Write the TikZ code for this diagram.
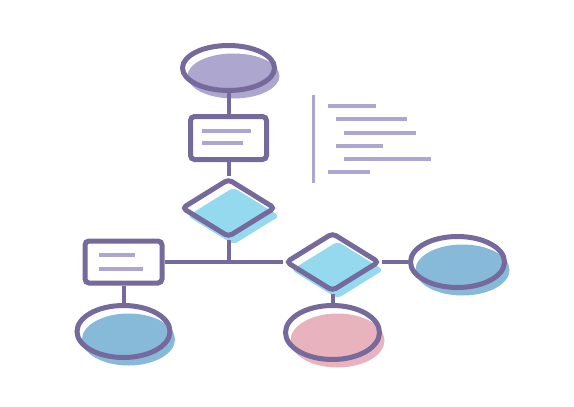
\documentclass[tikz,border=0pt]{standalone}
\usetikzlibrary{shapes.geometric,shadows}
\definecolor{stroke}{HTML}{76699B}
\definecolor{lav}{HTML}{ADA6CF}
\definecolor{cyanf}{HTML}{94D9EE}
\definecolor{bluef}{HTML}{86BAD8}
\definecolor{pinkf}{HTML}{E9B3BD}
\definecolor{bar}{HTML}{ADA6D0}
\tikzset{
  x=1pt, y=-1pt,
  outl/.style={draw=stroke, line width=5pt, inner sep=0pt,
    preaction={draw=white, line width=7pt}},
  shadowed/.style={drop shadow={shadow xshift=5pt, shadow yshift=-8pt, fill=#1, opacity=1}},
  ell/.style={ellipse, outl},
  box/.style={rectangle, rounded corners=4pt, outl, fill=white},
  dia/.style={diamond, rounded corners=4pt, outl},
  conn/.style={draw=stroke, line width=4pt},
  txt/.style={draw=bar, line width=3.5pt},
}
\begin{document}
\begin{tikzpicture}
\useasboundingbox (0,0) rectangle (574,407);
\node[ell, shadowed=lav, minimum width=92pt, minimum height=45pt] (e1) at (228.5,68) {};
\node[box, minimum width=76pt, minimum height=43pt] (r1) at (228.5,138) {};
\node[dia, shadowed=cyanf, minimum width=94pt, minimum height=59pt] (d1) at (228.5,208) {};
\node[box, minimum width=77pt, minimum height=42pt] (r2) at (123.5,262) {};
\node[dia, shadowed=cyanf, minimum width=94pt, minimum height=59pt] (d2) at (332.5,262) {};
\node[ell, shadowed=bluef, minimum width=93pt, minimum height=52pt] (e2) at (123.5,331.5) {};
\node[ell, shadowed=bluef, minimum width=94pt, minimum height=51pt] (e3) at (457.5,262) {};
\node[ell, shadowed=pinkf, minimum width=94pt, minimum height=54pt] (e4) at (332.5,332.5) {};
\coordinate (j) at (d1.south |- d2.west);
\draw[conn] (e1.south) -- (r1.north);
\draw[conn] (r1.south) -- (d1.north);
\draw[conn] (d1.south) -- (j);
\draw[conn] (r2.east) -- (d2.west);
\draw[conn] (r2.south) -- (e2.north);
\draw[conn] (d2.east) -- (e3.west);
\draw[conn] (d2.south) -- (e4.north);
% text bars in boxes
\coordinate (r1a) at (202,131); \coordinate (r1b) at (251,131);
\coordinate (r1c) at (202,143); \coordinate (r1d) at (243,143);
\draw[txt] (r1a) -- (r1b);
\draw[txt] (r1c) -- (r1d);
\coordinate (r2a) at (99,255); \coordinate (r2b) at (135,255);
\coordinate (r2c) at (99,269); \coordinate (r2d) at (143,269);
\draw[txt] (r2a) -- (r2b);
\draw[txt] (r2c) -- (r2d);
% side text block
\coordinate (v1) at (313,95); \coordinate (v2) at (313,183);
\draw[draw=bar, line width=3pt] (v1) -- (v2);
\coordinate (t1a) at (328,106); \coordinate (t1b) at (376,106);
\coordinate (t2a) at (336,119); \coordinate (t2b) at (407,119);
\coordinate (t3a) at (344,133); \coordinate (t3b) at (416,133);
\coordinate (t4a) at (336,146); \coordinate (t4b) at (383,146);
\coordinate (t5a) at (344,159); \coordinate (t5b) at (431,159);
\coordinate (t6a) at (328,172); \coordinate (t6b) at (370,172);
\draw[txt] (t1a) -- (t1b);
\draw[txt] (t2a) -- (t2b);
\draw[txt] (t3a) -- (t3b);
\draw[txt] (t4a) -- (t4b);
\draw[txt] (t5a) -- (t5b);
\draw[txt] (t6a) -- (t6b);
\end{tikzpicture}
\end{document}
